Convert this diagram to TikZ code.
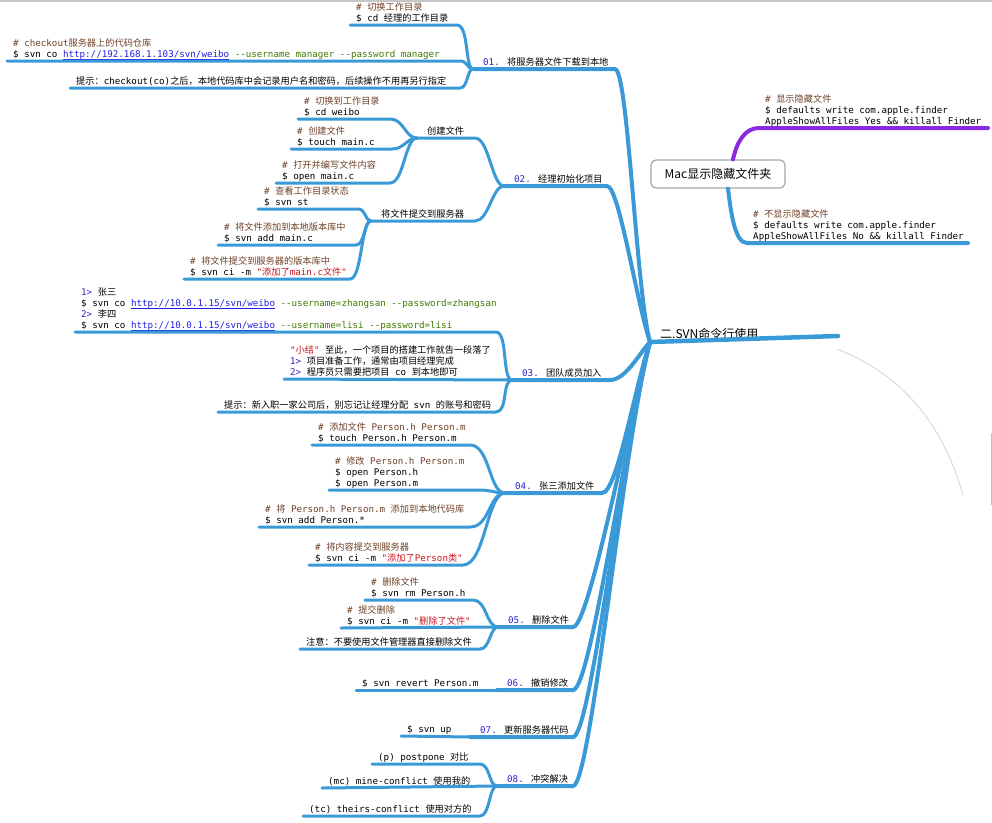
\documentclass[tikz,border=0pt]{standalone}
\usepackage{fontspec}
\newfontfamily\monof{DejaVu Sans Mono}
\newfontfamily\cjkf{Noto Sans CJK SC}
\newfontfamily\hubf{Noto Sans CJK SC}
\definecolor{mmblue}{HTML}{3A9AD8}
\definecolor{mmpurple}{HTML}{8A2BE2}
\definecolor{cmtbrown}{HTML}{6E4026}
\definecolor{urlblue}{HTML}{1F1FE0}
\definecolor{optgreen}{HTML}{3D7A00}
\definecolor{strred}{HTML}{C8141E}
\definecolor{idxblue}{HTML}{2A22C8}
\newcommand\zh[1]{{\cjkf#1}}
\newcommand\cmt[1]{\textcolor{cmtbrown}{#1}}
\newcommand\lnk[1]{\textcolor{urlblue}{\setbox0\hbox{#1}\rlap{\rule[-1.8pt]{\wd0}{0.8pt}}\box0}}
\newcommand\optg[1]{\textcolor{optgreen}{#1}}
\newcommand\strq[1]{\textcolor{strred}{#1}}
\newcommand\idx[1]{\textcolor{idxblue}{#1}}
\usetikzlibrary{arrows.meta}

\begin{document}
\begin{tikzpicture}[
    x=1pt, y=-1pt,
    code/.style={anchor=south west, align=left, inner xsep=6pt, inner ysep=0.5pt,
                 font=\fontsize{9.2}{11}\monof,
                 execute at end node={\vrule width 0pt height 0pt depth 2.5pt}},
    topic/.style={code, inner xsep=10pt},
    hubtext/.style={code, inner xsep=10pt, font=\fontsize{12}{14}\hubf},
    macbox/.style={rectangle, rounded corners=5pt, draw=gray!70, line width=1.2pt,
                   fill=white, minimum width=134pt, minimum height=28pt,
                   font=\fontsize{12}{14}\hubf},
    twig/.style={draw=mmblue, line width=3pt, line cap=round},
    limb/.style={twig, line width=4pt},
    shade/.style={draw=gray!35, line width=0.8pt}
  ]
  \useasboundingbox (0,0) rectangle (992,822);
  \fill[gray!45] (0,0) rectangle (992,2);

  \node[hubtext] (hub) at (650,342) {二.SVN命令行使用};
  \node[macbox] (mac) at (718,174) {Mac显示隐藏文件夹};

  \node[topic] (t01) at (473,69) {\idx{01.} \zh{将服务器文件下载到本地}};
  \node[topic] (t02) at (504,186) {\idx{02.} \zh{经理初始化项目}};
  \node[topic] (t03) at (512,380) {\idx{03.} \zh{团队成员加入}};
  \node[topic] (t04) at (505,493) {\idx{04.} \zh{张三添加文件}};
  \node[topic] (t05) at (498,627) {\idx{05.} \zh{删除文件}};
  \node[topic] (t06) at (497,690) {\idx{06.} \zh{撤销修改}};
  \node[topic] (t07) at (470,737) {\idx{07.} \zh{更新服务器代码}};
  \node[topic] (t08) at (497,786) {\idx{08.} \zh{冲突解决}};

  \node[code] (c01a) at (350,25) {\cmt{\# \zh{切换工作目录}}\\\$ cd \zh{经理的工作目录}};
  \node[code] (c01b) at (7,61) {\cmt{\# checkout\zh{服务器上的代码仓库}}\\\$ svn co \lnk{http://192.168.1.103/svn/weibo} \optg{-{}-username manager -{}-password manager}};
  \node[code] (c01c) at (70,88) {\zh{提示：}checkout(co)\zh{之后，本地代码库中会记录用户名和密码，后续操作不用再另行指定}};

  \node[topic] (s02a) at (417,138) {\zh{创建文件}};
  \node[topic] (s02b) at (371,221) {\zh{将文件提交到服务器}};
  \node[code] (c02a) at (298,119) {\cmt{\# \zh{切换到工作目录}}\\\$ cd weibo};
  \node[code] (c02b) at (291,149) {\cmt{\# \zh{创建文件}}\\\$ touch main.c};
  \node[code] (c02c) at (276,183) {\cmt{\# \zh{打开并编写文件内容}}\\\$ open main.c};
  \node[code] (c02d) at (258,209) {\cmt{\# \zh{查看工作目录状态}}\\\$ svn st};
  \node[code] (c02e) at (218,245) {\cmt{\# \zh{将文件添加到本地版本库中}}\\\$ svn add main.c};
  \node[code] (c02f) at (184,279) {\cmt{\# \zh{将文件提交到服务器的版本库中}}\\\$ svn ci -m \strq{"\zh{添加了}main.c\zh{文件}"}};

  \node[code] (c03a) at (75,332) {\idx{1>} \zh{张三}\\\$ svn co \lnk{http://10.0.1.15/svn/weibo} \optg{-{}-username=zhangsan -{}-password=zhangsan}\\\idx{2>} \zh{李四}\\\$ svn co \lnk{http://10.0.1.15/svn/weibo} \optg{-{}-username=lisi -{}-password=lisi}};
  \node[code] (c03b) at (284,379) {\strq{"\zh{小结}"} \zh{至此，一个项目的搭建工作就告一段落了}\\\idx{1>} \zh{项目准备工作，通常由项目经理完成}\\\idx{2>} \zh{程序员只需要把项目} co \zh{到本地即可}};
  \node[code] (c03c) at (218,412) {\zh{提示：新入职一家公司后，别忘记让经理分配} svn \zh{的账号和密码}};

  \node[code] (c04a) at (312,445) {\cmt{\# \zh{添加文件} Person.h Person.m}\\\$ touch Person.h Person.m};
  \node[code] (c04b) at (329,490) {\cmt{\# \zh{修改} Person.h Person.m}\\\$ open Person.h\\\$ open Person.m};
  \node[code] (c04c) at (259,527) {\cmt{\# \zh{将} Person.h Person.m \zh{添加到本地代码库}}\\\$ svn add Person.*};
  \node[code] (c04d) at (309,565) {\cmt{\# \zh{将内容提交到服务器}}\\\$ svn ci -m \strq{"\zh{添加了}Person\zh{类}"}};

  \node[code] (c05a) at (365,600) {\cmt{\# \zh{删除文件}}\\\$ svn rm Person.h};
  \node[code] (c05b) at (341,628) {\cmt{\# \zh{提交删除}}\\\$ svn ci -m \strq{"\zh{删除了文件}"}};
  \node[code] (c05c) at (300,649) {\zh{注意：不要使用文件管理器直接删除文件}};

  \node[code] (c06a) at (356,690) {\$ svn revert Person.m};
  \node[code] (c07a) at (401,736) {\$ svn up};

  \node[code] (c08a) at (372,764) {(p) postpone \zh{对比}};
  \node[code] (c08b) at (322,788) {(mc) mine-conflict \zh{使用我的}};
  \node[code] (c08c) at (303,816) {(tc) theirs-conflict \zh{使用对方的}};

  \node[code] (cm1) at (759,128) {\cmt{\# \zh{显示隐藏文件}}\\\$ defaults write com.apple.finder\\AppleShowAllFiles Yes \&\& killall Finder};
  \node[code] (cm2) at (747,243) {\cmt{\# \zh{不显示隐藏文件}}\\\$ defaults write com.apple.finder\\AppleShowAllFiles No \&\& killall Finder};

  \draw[limb, line width=4.5pt] (hub.south west) -- ([shift={(188,-6)}]hub.south west);
  \draw[limb] (t01.south west) -- ([xshift=142]t01.south west) .. controls +(13,0) and +(-14,-52) .. (hub.south west);
  \draw[limb] (t02.south west) -- ([xshift=103]t02.south west) .. controls +(12,0) and +(-14,-42) .. (hub.south west);
  \draw[limb] (t03.south west) -- ([xshift=98]t03.south west) .. controls +(16,0) and +(-10,10) .. (hub.south west);
  \draw[limb] (t04.south west) -- ([xshift=97]t04.south west) .. controls +(15,0) and +(-16,48) .. (hub.south west);
  \draw[limb] (t05.south west) -- ([xshift=75]t05.south west) .. controls +(16,0) and +(-22,78) .. (hub.south west);
  \draw[limb] (t06.south west) -- ([xshift=76]t06.south west) .. controls +(18,0) and +(-24,88) .. (hub.south west);
  \draw[limb] (t07.south west) -- ([xshift=103]t07.south west) .. controls +(18,0) and +(-26,98) .. (hub.south west);
  \draw[limb] (t08.south west) -- ([xshift=76]t08.south west) .. controls +(18,0) and +(-28,108) .. (hub.south west);

  \draw[twig] (c01a.south west) -- ([xshift=107]c01a.south west) .. controls +(12,0) and +(-8,0) .. (t01.south west);
  \draw[twig] (c01b.south west) -- ([xshift=453]c01b.south west) .. controls +(8,0) and +(-6,0) .. (t01.south west);
  \draw[twig] (c01c.south west) -- ([xshift=390]c01c.south west) .. controls +(8,0) and +(-6,0) .. (t01.south west);

  \draw[twig] (s02a.south west) -- ([xshift=58]s02a.south west) .. controls +(14,0) and +(-12,0) .. (t02.south west);
  \draw[twig] (s02b.south west) -- ([xshift=104]s02b.south west) .. controls +(14,0) and +(-12,0) .. (t02.south west);
  \draw[twig] (c02a.south west) -- ([xshift=92]c02a.south west) .. controls +(14,0) and +(-12,0) .. (s02a.south west);
  \draw[twig] (c02b.south west) -- ([xshift=101]c02b.south west) .. controls +(12,0) and +(-10,0) .. (s02a.south west);
  \draw[twig] (c02c.south west) -- ([xshift=114]c02c.south west) .. controls +(14,0) and +(-12,0) .. (s02a.south west);
  \draw[twig] (c02d.south west) -- ([xshift=100]c02d.south west) .. controls +(8,0) and +(-6,0) .. (s02b.south west);
  \draw[twig] (c02e.south west) -- ([xshift=138]c02e.south west) .. controls +(9,0) and +(-7,0) .. (s02b.south west);
  \draw[twig] (c02f.south west) -- ([xshift=166]c02f.south west) .. controls +(12,0) and +(-10,0) .. (s02b.south west);

  \draw[twig] (c03a.south west) -- ([xshift=421]c03a.south west) .. controls +(12,0) and +(-10,0) .. (t03.south west);
  \draw[twig] (c03b.south west) -- (t03.south west);
  \draw[twig] (c03c.south west) -- ([xshift=278]c03c.south west) .. controls +(12,0) and +(-10,0) .. (t03.south west);

  \draw[twig] (c04a.south west) -- ([xshift=158]c04a.south west) .. controls +(20,0) and +(-16,0) .. (t04.south west);
  \draw[twig] (c04b.south west) -- ([xshift=150]c04b.south west) .. controls +(12,0) and +(-10,0) .. (t04.south west);
  \draw[twig] (c04c.south west) -- ([xshift=211]c04c.south west) .. controls +(20,0) and +(-16,0) .. (t04.south west);
  \draw[twig] (c04d.south west) -- ([xshift=154]c04d.south west) .. controls +(22,0) and +(-18,0) .. (t04.south west);

  \draw[twig] (c05a.south west) -- ([xshift=108]c05a.south west) .. controls +(14,0) and +(-12,0) .. (t05.south west);
  \draw[twig] (c05b.south west) -- (t05.south west);
  \draw[twig] (c05c.south west) -- ([xshift=180]c05c.south west) .. controls +(10,0) and +(-8,0) .. (t05.south west);

  \draw[twig] (c06a.south west) -- (t06.south west);
  \draw[twig] (c07a.south west) -- (t07.south west);

  \draw[twig] (c08a.south west) -- ([xshift=108]c08a.south west) .. controls +(10,0) and +(-8,0) .. (t08.south west);
  \draw[twig] (c08b.south west) -- (t08.south west);
  \draw[twig] (c08c.south west) -- ([xshift=177]c08c.south west) .. controls +(10,0) and +(-8,0) .. (t08.south west);

  \draw[twig, draw=mmpurple, line width=4pt] ([xshift=15]mac.north) .. controls +(4,-18) and +(-14,0) .. (cm1.south west) -- ([xshift=229]cm1.south west);
  \draw[twig, line width=4pt] ([xshift=10]mac.south) .. controls +(3,25) and +(-12,0) .. (cm2.south west) -- ([xshift=221]cm2.south west);

  \draw[shade] (837,349) .. controls (895,372) and (940,415) .. (963,495);
  \draw[shade, draw=gray!50] (991,433) -- (991,505);
\end{tikzpicture}
\end{document}
